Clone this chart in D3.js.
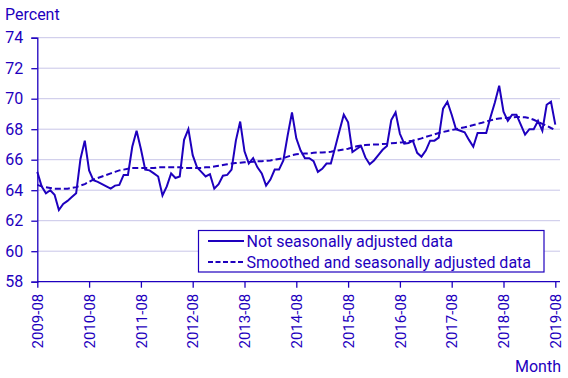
<!DOCTYPE html>
<html>
<head>
<meta charset="utf-8">
<script src="https://cdn.jsdelivr.net/npm/d3@7"></script>
<style>
  html, body { margin: 0; padding: 0; background: #fff; }
  svg { display: block; font-family: Roboto, "Noto Sans", sans-serif; }
</style>
</head>
<body>
<div id="chart"></div>
<script>
// ---- data ----
const months = d3.timeMonth.range(new Date(2009, 7, 1), new Date(2019, 8, 1)).map(d3.timeFormat("%Y-%m"));

const notSeasonallyAdjusted = [
  65.2, 64.25, 63.8, 64.0, 63.7, 62.7, 63.1, 63.3, 63.55, 63.8, 66.05, 67.25,
  65.3, 64.65, 64.55, 64.4, 64.25, 64.1, 64.3, 64.35, 65.0, 65.0, 66.85, 67.9,
  66.7, 65.35, 65.3, 65.1, 64.9, 63.65, 64.25, 65.1, 64.8, 64.9, 67.3, 68.0,
  66.3, 65.5, 65.2, 64.9, 65.05, 64.1, 64.4, 64.95, 65.0, 65.35, 67.25, 68.5,
  66.55, 65.75, 66.1, 65.5, 65.1, 64.3, 64.7, 65.35, 65.35, 65.95, 67.6, 69.1,
  67.4, 66.6, 66.1, 66.1, 65.9, 65.2, 65.4, 65.75, 65.75, 66.8, 67.9, 68.95,
  68.45, 66.5, 66.7, 66.9, 66.15, 65.7, 65.95, 66.3, 66.65, 66.9, 68.6, 69.1,
  67.7, 67.05, 67.1, 67.25, 66.45, 66.2, 66.6, 67.25, 67.25, 67.45, 69.35, 69.8,
  68.95, 68.0, 67.9, 67.8, 67.3, 66.85, 67.75, 67.75, 67.75, 68.8, 69.75, 70.85,
  69.15, 68.55, 68.95, 68.95, 68.3, 67.65, 68.0, 68.0, 68.55, 67.9, 69.6, 69.8,
  68.3
];

const smoothedSeasonallyAdjusted = [
  64.35, 64.25, 64.2, 64.15, 64.1, 64.1, 64.1, 64.1, 64.15, 64.2, 64.3, 64.4,
  64.55, 64.7, 64.8, 64.9, 65.0, 65.1, 65.2, 65.3, 65.35, 65.4, 65.45, 65.45,
  65.45, 65.45, 65.45, 65.45, 65.5, 65.5, 65.5, 65.5, 65.5, 65.5, 65.45, 65.45,
  65.45, 65.45, 65.45, 65.5, 65.5, 65.55, 65.6, 65.65, 65.7, 65.75, 65.78, 65.8,
  65.83, 65.85, 65.87, 65.9, 65.9, 65.92, 65.95, 66.0, 66.05, 66.1, 66.2, 66.3,
  66.35, 66.38, 66.4, 66.42, 66.45, 66.47, 66.48, 66.5, 66.52, 66.57, 66.62, 66.67,
  66.72, 66.8, 66.88, 66.93, 66.96, 66.98, 67.0, 67.0, 67.03, 67.05, 67.08, 67.1,
  67.12, 67.15, 67.2, 67.25, 67.32, 67.4, 67.5, 67.58, 67.66, 67.75, 67.82, 67.88,
  67.95, 68.0, 68.07, 68.13, 68.2, 68.27, 68.35, 68.42, 68.5, 68.58, 68.65, 68.7,
  68.73, 68.75, 68.78, 68.8, 68.8, 68.78, 68.72, 68.62, 68.48, 68.35, 68.22, 68.08,
  67.95
];

const yTicks = [58, 60, 62, 64, 66, 68, 70, 72, 74];
const xTickLabels = ["2009-08", "2010-08", "2011-08", "2012-08", "2013-08", "2014-08",
                     "2015-08", "2016-08", "2017-08", "2018-08", "2019-08"];
const seriesNames = ["Not seasonally adjusted data", "Smoothed and seasonally adjusted data"];

// ---- drawing ----
const W = 568, H = 378;
const C = "#1e00be";
const GRID = "#c8c5e8";

const svg = d3.select("#chart").append("svg").attr("width", W).attr("height", H);

const x = d3.scalePoint().domain(months).range([37.3, 555.3]);
const y = d3.scaleLinear().domain([58, 74]).range([281.7, 37.7]);
const xRight = 560;

// gridlines
svg.append("g").selectAll("line").data(yTicks.filter(t => t !== 58)).join("line")
  .attr("x1", 37.3).attr("x2", xRight)
  .attr("y1", d => y(d)).attr("y2", d => y(d))
  .attr("stroke", GRID).attr("stroke-width", 1);

// y axis
const yAxis = svg.append("g").attr("transform", "translate(37.3,0)")
  .call(d3.axisLeft(y).tickValues(yTicks).tickSize(6).tickPadding(8).tickFormat(d3.format("d")));
yAxis.select(".domain").attr("stroke", C).attr("stroke-width", 1.3);
yAxis.selectAll(".tick line").attr("stroke", C).attr("stroke-width", 1.3);
yAxis.selectAll(".tick text").attr("fill", C).attr("font-size", 16).attr("font-family", "Roboto");

// x axis
const xAxis = svg.append("g").attr("transform", "translate(0,281.7)")
  .call(d3.axisBottom(x).tickValues(xTickLabels).tickSize(6).tickSizeOuter(0));
xAxis.select(".domain").attr("d", `M37.3,0H${xRight}`).attr("stroke", C).attr("stroke-width", 1.3);
xAxis.selectAll(".tick line").attr("stroke", C).attr("stroke-width", 1.3);
xAxis.selectAll(".tick text")
  .attr("fill", C).attr("font-size", 15).attr("font-family", "Roboto")
  .attr("text-anchor", "end")
  .attr("transform", "rotate(-90)")
  .attr("x", -12).attr("y", 0).attr("dy", "0.35em");

// axis titles
svg.append("text").attr("x", 5).attr("y", 20).attr("fill", C)
  .attr("font-size", 16).text("Percent");
svg.append("text").attr("x", 561).attr("y", 372).attr("fill", C)
  .attr("font-size", 16).attr("text-anchor", "end").text("Month");

// lines
const line = d3.line().x((d, i) => x(months[i])).y(d => y(d));
svg.append("path").datum(smoothedSeasonallyAdjusted)
  .attr("d", line).attr("fill", "none").attr("stroke", C)
  .attr("stroke-width", 2).attr("stroke-dasharray", "6,3");
svg.append("path").datum(notSeasonallyAdjusted)
  .attr("d", line).attr("fill", "none").attr("stroke", C)
  .attr("stroke-width", 2).attr("stroke-linejoin", "miter");

// legend
const lg = svg.append("g");
lg.append("rect").attr("x", 198.5).attr("y", 230.5).attr("width", 345.5).attr("height", 41.5)
  .attr("fill", "#fff").attr("stroke", C).attr("stroke-width", 1.2);
seriesNames.forEach((name, k) => {
  const cy = 241 + k * 21;
  lg.append("line").attr("x1", 208).attr("x2", 244).attr("y1", cy).attr("y2", cy)
    .attr("stroke", C).attr("stroke-width", 2)
    .attr("stroke-dasharray", k === 1 ? "5,2.5" : null);
  lg.append("text").attr("x", 246.5).attr("y", cy).attr("dy", "0.36em")
    .attr("fill", C).attr("font-size", 16).text(name);
});
</script>
</body>
</html>
